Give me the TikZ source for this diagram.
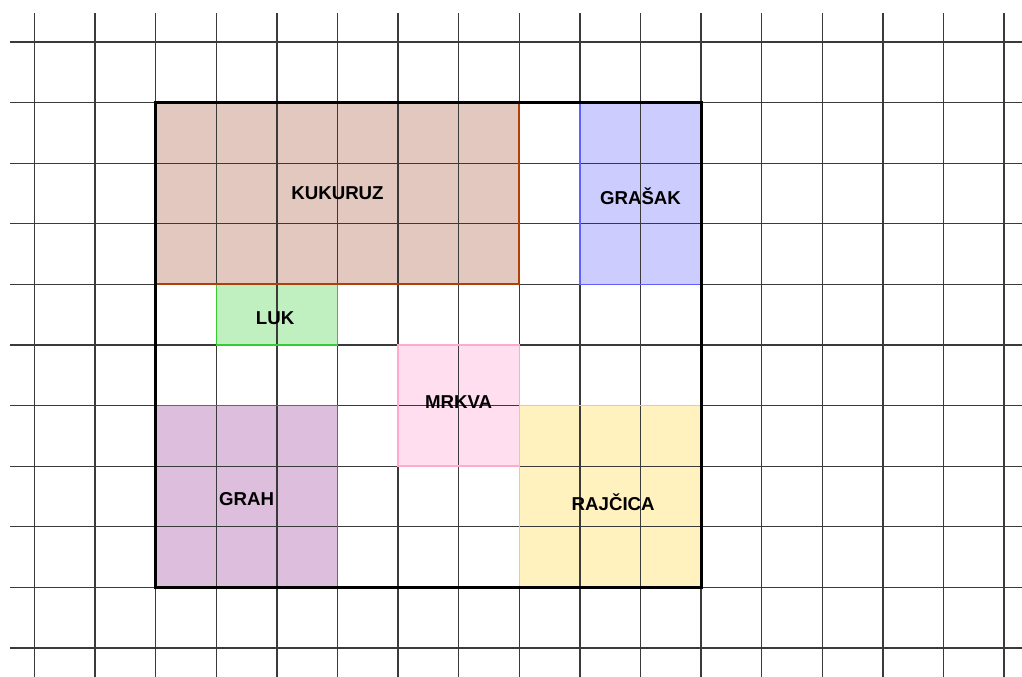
\documentclass[tikz,border=0pt]{standalone}
\usepackage{fontspec}
\setmainfont{Liberation Sans}
\definecolor{kukF}{HTML}{E2C8BE}\definecolor{kukD}{HTML}{B0400A}
\definecolor{graF}{HTML}{CCCCFF}\definecolor{graD}{HTML}{6060FF}
\definecolor{lukF}{HTML}{C0F0C0}\definecolor{lukD}{HTML}{33CC33}
\definecolor{mrkF}{HTML}{FFDFEF}\definecolor{mrkD}{HTML}{FFAACC}
\definecolor{grhF}{HTML}{DDBEDD}\definecolor{grhD}{HTML}{A040A0}
\definecolor{rajF}{HTML}{FFF2BF}\definecolor{rajD}{HTML}{F5D547}
\definecolor{gridc}{HTML}{3A3A3A}
\tikzset{
  gridline/.style={draw=gridc,line width=1pt},
  bedborder/.style={line width=1.1pt},
  label/.style={font=\fontsize{14}{16}\selectfont\bfseries,text=black,inner sep=0pt},
  frame/.style={draw=black,line width=2.4pt}
}
\begin{document}
\begin{tikzpicture}[x=45.45pt,y=-45.45pt]
\useasboundingbox (-0.5693,-0.6931) rectangle (16.2954,10.4785);
% fills
\fill[kukF] (2,1) rectangle (8,4);
\fill[graF] (9,1) rectangle (11,4);
\fill[lukF] (3,4) rectangle (5,5);
\fill[mrkF] (6,5) rectangle (8,7);
\fill[grhF] (2,6) rectangle (5,9);
\fill[rajF] (8,6) rectangle (11,9);
% grid
\foreach \i in {0,...,16} \draw[gridline] (\i,-0.4785) -- (\i,10.4785);
\foreach \j in {0,...,10} \draw[gridline] (-0.4043,\j) -- (16.2954,\j);
% borders
\draw[bedborder,draw=graD] (9,1) rectangle (11,4);
\draw[bedborder,draw=lukD] (3,4) rectangle (5,5);
\draw[bedborder,draw=mrkD] (6,5) rectangle (8,7);
\draw[bedborder,draw=grhD] (2,6) rectangle (5,9);
\draw[bedborder,draw=rajD] (8,6) rectangle (11,9);
\draw[bedborder,draw=kukD,line width=1.6pt] (2,1) rectangle (8,4);
\draw[frame] (2,1) rectangle (11,9);
% labels
\node[label] (kukuruz) at (5,2.5) {KUKURUZ};
\node[label] (grasak) at (10,2.55) {GRAŠAK};
\node[label] (luk) at (3.97,4.55) {LUK};
\node[label] (mrkva) at (7,5.95) {MRKVA};
\node[label] (grah) at (3.5,7.55) {GRAH};
\node[label] (rajcica) at (9.55,7.6) {RAJČICA};
\end{tikzpicture}
\end{document}
